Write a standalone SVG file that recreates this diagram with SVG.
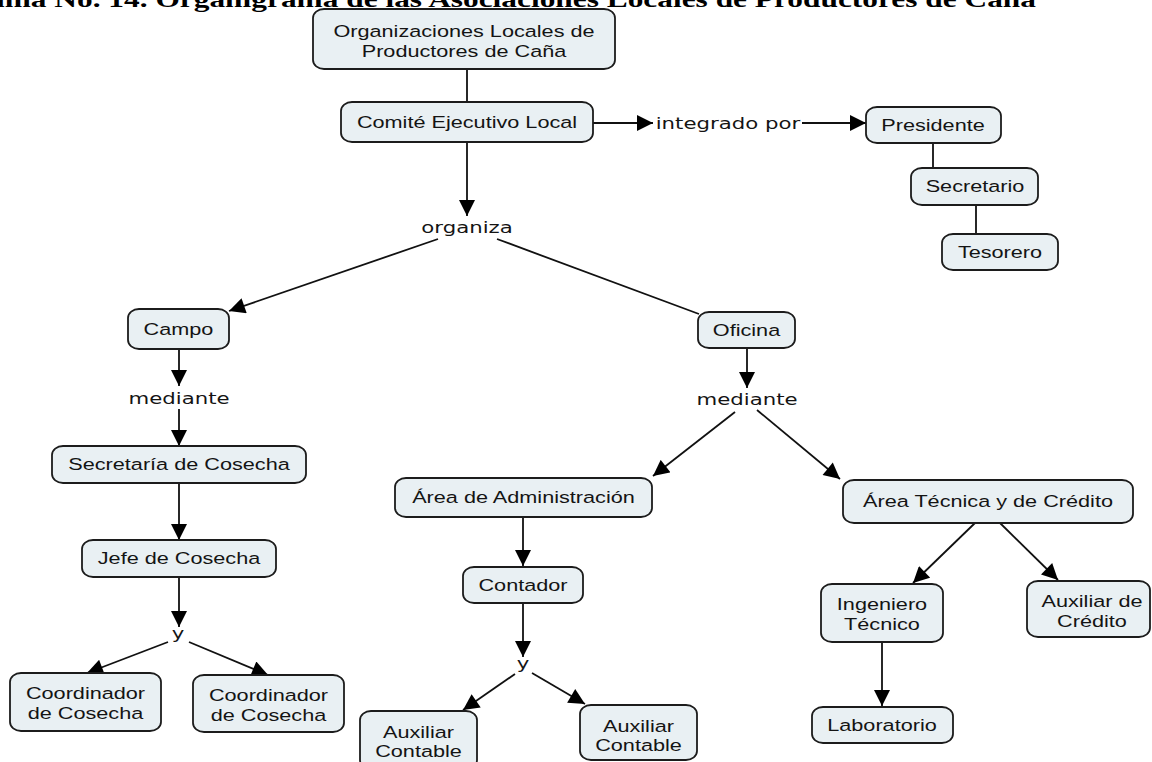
<svg xmlns="http://www.w3.org/2000/svg" width="1152" height="762" viewBox="0 0 1152 762">
  <style>
    .box { fill: #e9f0f3; stroke: #1c1c1c; stroke-width: 1.8; }
    .t { font-family: "Liberation Sans", Arial, sans-serif; font-size: 16.3px; fill: #141414; text-anchor: middle; }
    .lbl { font-family: "DejaVu Sans", Verdana, sans-serif; font-size: 16px; fill: #141414; text-anchor: middle; }
    .title { font-family: "Liberation Serif", "Times New Roman", serif; font-size: 23.6px; font-weight: bold; fill: #000; text-anchor: end; }
    .ln { stroke: #111; stroke-width: 1.8; fill: none; }
    .ar { marker-end: url(#head); }
  </style>
  <defs>
    <marker id="head" viewBox="0 0 10 10" refX="10" refY="5" markerUnits="userSpaceOnUse" markerWidth="17" markerHeight="16" orient="auto">
      <path d="M0,0 L10,5 L0,10 z" fill="#000"/>
    </marker>
  </defs>

  <rect width="1152" height="762" fill="#fff"/>

  <!-- heading, only its lower part falls inside the page -->
  <text class="title" transform="translate(1036 7) scale(1.33 1)">ama No. 14. Organigrama de las Asociaciones Locales de Productores de Caña</text>

  <!-- connectors and linking phrases -->
  <g id="connectors">
    <line class="ln" x1="467" y1="69" x2="467" y2="102"/>
    <line class="ln ar" x1="593" y1="123" x2="653" y2="123"/>
    <line class="ln ar" x1="802" y1="123" x2="866" y2="123"/>
    <line class="ln" x1="933" y1="143" x2="933" y2="168"/>
    <line class="ln" x1="976" y1="205" x2="976" y2="234"/>
    <line class="ln ar" x1="467" y1="142" x2="467" y2="216"/>
    <line class="ln ar" x1="438" y1="239" x2="229" y2="311"/>
    <line class="ln" x1="497" y1="239" x2="699" y2="314"/>
    <line class="ln ar" x1="179" y1="349" x2="179" y2="386"/>
    <line class="ln ar" x1="179" y1="409" x2="179" y2="446"/>
    <line class="ln ar" x1="179" y1="483" x2="179" y2="540"/>
    <line class="ln ar" x1="179" y1="577" x2="179" y2="627"/>
    <line class="ln ar" x1="168" y1="642" x2="87" y2="673"/>
    <line class="ln ar" x1="189" y1="642" x2="268" y2="675"/>
    <line class="ln ar" x1="747" y1="348" x2="747" y2="388"/>
    <line class="ln ar" x1="735" y1="412" x2="653" y2="476"/>
    <line class="ln ar" x1="757" y1="410" x2="840" y2="479"/>
    <line class="ln ar" x1="523" y1="517" x2="523" y2="566"/>
    <line class="ln ar" x1="523" y1="603" x2="523" y2="657"/>
    <line class="ln ar" x1="515" y1="674" x2="463" y2="710"/>
    <line class="ln ar" x1="532" y1="673" x2="585" y2="704"/>
    <line class="ln ar" x1="975" y1="523" x2="913" y2="583"/>
    <line class="ln ar" x1="1000" y1="523" x2="1058" y2="580"/>
    <line class="ln ar" x1="882" y1="642" x2="882" y2="706"/>

    <text class="lbl" transform="translate(728 129) scale(1.33 1)">integrado por</text>
    <text class="lbl" transform="translate(467 233) scale(1.33 1)">organiza</text>
    <text class="lbl" transform="translate(179 404) scale(1.33 1)">mediante</text>
    <text class="lbl" transform="translate(747 405) scale(1.33 1)">mediante</text>
    <text class="lbl" transform="translate(178 639) scale(1.33 1)">y</text>
    <text class="lbl" transform="translate(523 669) scale(1.33 1)">y</text>
  </g>

  <!-- concepts -->
  <g id="organizaciones">
    <rect class="box" x="313" y="9" width="302" height="60" rx="11" ry="9"/>
    <text class="t" transform="translate(464 37) scale(1.33 1)"><tspan x="0">Organizaciones Locales de</tspan><tspan x="0" dy="20">Productores de Caña</tspan></text>
  </g>
  <g id="comite">
    <rect class="box" x="341" y="102" width="252" height="40" rx="11" ry="9"/>
    <text class="t" transform="translate(467 128) scale(1.33 1)">Comité Ejecutivo Local</text>
  </g>
  <g id="presidente">
    <rect class="box" x="866" y="107" width="135" height="36" rx="11" ry="9"/>
    <text class="t" transform="translate(933 131) scale(1.33 1)">Presidente</text>
  </g>
  <g id="secretario">
    <rect class="box" x="911" y="168" width="127" height="37" rx="11" ry="9"/>
    <text class="t" transform="translate(975 192) scale(1.33 1)">Secretario</text>
  </g>
  <g id="tesorero">
    <rect class="box" x="942" y="234" width="116" height="36" rx="11" ry="9"/>
    <text class="t" transform="translate(1000 258) scale(1.33 1)">Tesorero</text>
  </g>
  <g id="campo">
    <rect class="box" x="128" y="309" width="101" height="40" rx="11" ry="9"/>
    <text class="t" transform="translate(178.5 335) scale(1.33 1)">Campo</text>
  </g>
  <g id="oficina">
    <rect class="box" x="698" y="312" width="97" height="36" rx="11" ry="9"/>
    <text class="t" transform="translate(746.5 336) scale(1.33 1)">Oficina</text>
  </g>
  <g id="secretaria-cosecha">
    <rect class="box" x="52" y="446" width="254" height="37" rx="11" ry="9"/>
    <text class="t" transform="translate(179 470) scale(1.33 1)">Secretaría de Cosecha</text>
  </g>
  <g id="jefe-cosecha">
    <rect class="box" x="82" y="540" width="194" height="37" rx="11" ry="9"/>
    <text class="t" transform="translate(179 564) scale(1.33 1)">Jefe de Cosecha</text>
  </g>
  <g id="coordinador-1">
    <rect class="box" x="10" y="673" width="151" height="58" rx="11" ry="9"/>
    <text class="t" transform="translate(85.5 699) scale(1.33 1)"><tspan x="0">Coordinador</tspan><tspan x="0" dy="20">de Cosecha</tspan></text>
  </g>
  <g id="coordinador-2">
    <rect class="box" x="193" y="675" width="151" height="57" rx="11" ry="9"/>
    <text class="t" transform="translate(268.5 701) scale(1.33 1)"><tspan x="0">Coordinador</tspan><tspan x="0" dy="20">de Cosecha</tspan></text>
  </g>
  <g id="area-administracion">
    <rect class="box" x="395" y="478" width="257" height="39" rx="11" ry="9"/>
    <text class="t" transform="translate(523.5 503) scale(1.33 1)">Área de Administración</text>
  </g>
  <g id="contador">
    <rect class="box" x="463" y="567" width="120" height="36" rx="11" ry="9"/>
    <text class="t" transform="translate(523 591) scale(1.33 1)">Contador</text>
  </g>
  <g id="auxiliar-contable-1">
    <rect class="box" x="360" y="711" width="117" height="58" rx="11" ry="9"/>
    <text class="t" transform="translate(418.5 738) scale(1.33 1)"><tspan x="0">Auxiliar</tspan><tspan x="0" dy="19">Contable</tspan></text>
  </g>
  <g id="auxiliar-contable-2">
    <rect class="box" x="580" y="705" width="117" height="55" rx="11" ry="9"/>
    <text class="t" transform="translate(638.5 732) scale(1.33 1)"><tspan x="0">Auxiliar</tspan><tspan x="0" dy="19">Contable</tspan></text>
  </g>
  <g id="area-tecnica">
    <rect class="box" x="843" y="480" width="290" height="43" rx="11" ry="9"/>
    <text class="t" transform="translate(988 507) scale(1.33 1)">Área Técnica y de Crédito</text>
  </g>
  <g id="ingeniero">
    <rect class="box" x="821" y="584" width="122" height="58" rx="11" ry="9"/>
    <text class="t" transform="translate(882 610) scale(1.33 1)"><tspan x="0">Ingeniero</tspan><tspan x="0" dy="20">Técnico</tspan></text>
  </g>
  <g id="auxiliar-credito">
    <rect class="box" x="1027" y="581" width="123" height="56" rx="11" ry="9"/>
    <text class="t" transform="translate(1092 607) scale(1.33 1)"><tspan x="0">Auxiliar de</tspan><tspan x="0" dy="20">Crédito</tspan></text>
  </g>
  <g id="laboratorio">
    <rect class="box" x="812" y="707" width="141" height="36" rx="11" ry="9"/>
    <text class="t" transform="translate(882 731) scale(1.33 1)">Laboratorio</text>
  </g>
</svg>
